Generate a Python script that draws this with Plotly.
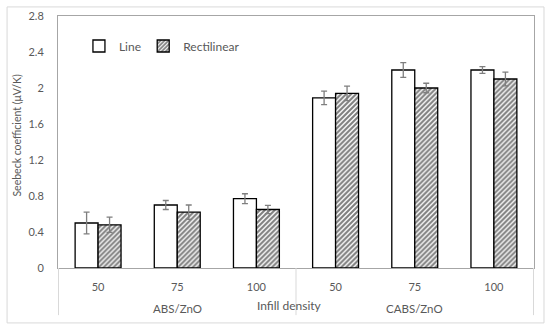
import plotly.graph_objects as go

groups = ["ABS/ZnO", "ABS/ZnO", "ABS/ZnO", "CABS/ZnO", "CABS/ZnO", "CABS/ZnO"]
densities = ["50", "75", "100", "50", "75", "100"]
group_names = ["ABS/ZnO", "CABS/ZnO"]

line_vals = [0.50, 0.70, 0.77, 1.89, 2.20, 2.20]
line_err = [0.12, 0.05, 0.055, 0.075, 0.083, 0.037]
rect_vals = [0.48, 0.62, 0.65, 1.94, 2.00, 2.10]
rect_err = [0.085, 0.08, 0.045, 0.08, 0.053, 0.076]

y_ticks = [0, 0.4, 0.8, 1.2, 1.6, 2.0, 2.4, 2.8]
y_tick_text = ["0", "0.4", "0.8", "1.2", "1.6", "2", "2.4", "2.8"]

y_title = "Seebeck coefficient (μV/K)"
x_title = "Infill density"

# unique category keys (group + density), shown with density labels only
cats = [g + "|" + d for g, d in zip(groups, densities)]

FONT = "Lato"
GRAY = "#595959"
AXIS = "#a6a6a6"
DIV = "#d9d9d9"

fig = go.Figure()
fig.add_trace(go.Bar(
    name="Line", x=cats, y=line_vals, legend="legend",
    marker=dict(color="white", line=dict(color="black", width=1.3)),
    error_y=dict(type="data", array=line_err, color="#7f7f7f", thickness=1.3, width=3),
))
fig.add_trace(go.Bar(
    name="Rectilinear", x=cats, y=rect_vals, legend="legend2",
    marker=dict(color="white", line=dict(color="black", width=1.3),
                pattern=dict(shape="/", fgcolor="#000000", bgcolor="white", size=3.5, solidity=0.6)),
    error_y=dict(type="data", array=rect_err, color="#7f7f7f", thickness=1.3, width=3),
))

leg_common = dict(orientation="h", yanchor="middle", xanchor="left",
                  bgcolor="rgba(0,0,0,0)", font=dict(size=12, color=GRAY))

fig.update_layout(
    width=550, height=330,
    margin=dict(l=58, r=16, t=16, b=62),
    paper_bgcolor="white", plot_bgcolor="white",
    barmode="group", bargap=0.42, bargroupgap=0,
    font=dict(family=FONT, size=11, color=GRAY),
    showlegend=True,
    legend=dict(x=0.044, y=0.881, **leg_common),
    legend2=dict(x=0.179, y=0.881, **leg_common),
    xaxis=dict(type="category", categoryorder="array", categoryarray=cats,
               tickvals=cats, ticktext=densities, automargin=False,
               showline=True, linecolor=AXIS, linewidth=1, mirror=True, showgrid=False,
               ticks="outside", ticklen=9, tickcolor="rgba(0,0,0,0)",
               tickfont=dict(size=11, color=GRAY)),
    yaxis=dict(range=[0, 2.8], tickvals=y_ticks, ticktext=y_tick_text, automargin=False,
               showline=True, linecolor=AXIS, linewidth=1, mirror=True, showgrid=False,
               ticks="outside", ticklen=11, tickcolor="rgba(0,0,0,0)",
               zeroline=False, tickfont=dict(size=11, color=GRAY)),
)

# y-axis title
fig.add_annotation(text=y_title, xref="paper", yref="paper", x=-0.087, y=0.524,
                   textangle=-90, showarrow=False, xanchor="center", yanchor="middle",
                   font=dict(size=10.5, color=GRAY))

# group labels under the middle category of each group
for gname in group_names:
    members = [c for c, g in zip(cats, groups) if g == gname]
    fig.add_annotation(text=gname, xref="x", yref="paper", x=members[len(members) // 2],
                       y=-0.159, showarrow=False, yanchor="middle",
                       font=dict(size=11.5, color=GRAY))

# group dividers below the axis
n = len(cats)
bounds = [-0.5] + [i + 0.5 for i in range(n - 1) if groups[i] != groups[i + 1]] + [n - 0.5]
for b in bounds:
    fig.add_shape(type="line", xref="x", yref="paper", x0=b, x1=b, y0=-0.187, y1=0,
                  line=dict(color=DIV, width=1))

fig.add_annotation(text=x_title, xref="paper", yref="paper", x=0.487, y=-0.147,
                   showarrow=False, font=dict(size=12, color=GRAY), yanchor="middle")

fig.add_shape(type="rect", xref="paper", yref="paper", x0=-0.107, x1=1.021, y0=-0.218, y1=1.036,
              line=dict(color="#d9d9d9", width=1), fillcolor="rgba(0,0,0,0)", layer="below")

fig.write_html("out.html", config={"displayModeBar": False},
               post_script="document.body.style.margin='0px';")
